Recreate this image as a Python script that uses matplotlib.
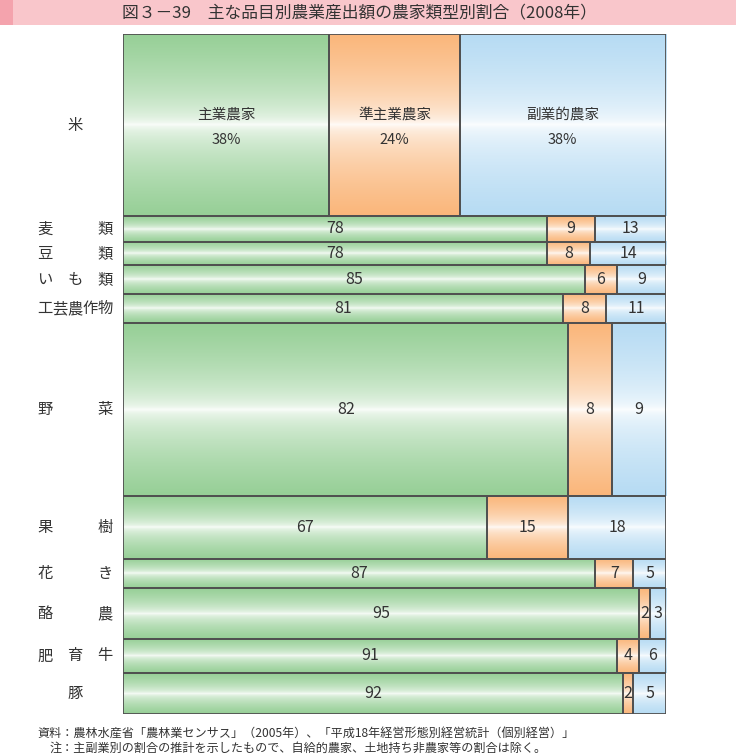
import numpy as np
import matplotlib
matplotlib.use('Agg')
import matplotlib.pyplot as plt
from matplotlib.patches import Rectangle
from matplotlib.colors import to_rgb
import matplotlib.transforms as mtransforms

plt.rcParams['font.family'] = ['Noto Sans CJK JP', 'DejaVu Sans']

# 品目と産出額の構成比 (行の高さ)
items = ['米', '麦類', '豆類', 'いも類', '工芸農作物', '野菜', '果樹', '花き', '酪農', '肥育牛', '豚']
output_share = [26.8, 3.8, 3.4, 4.3, 4.3, 25.4, 9.3, 4.3, 7.4, 5.1, 6.0]

# 農家類型別割合 (%)
main_farm = [38, 78, 78, 85, 81, 82, 67, 87, 95, 91, 92]
semi_farm = [24, 9, 8, 6, 8, 8, 15, 7, 2, 4, 2]
side_farm = [38, 13, 14, 9, 11, 9, 18, 5, 3, 6, 5]

types = ['主業農家', '準主業農家', '副業的農家']
colors = ['#96cf96', '#fab67a', '#b6dbf3']

W, H = 736, 756
fig = plt.figure(figsize=(W / 100, H / 100), dpi=100)
ax = fig.add_axes([123 / W, 1 - 714 / H, 543 / W, 680 / H])

txt_color = '#333333'


def grad_cell(x0, x1, y0, y1, color):
    # 上下が濃く中央が白いグラデーション
    t = np.abs(np.linspace(-1, 1, 200))
    f = t ** 0.5
    c = np.array(to_rgb(color))
    img = 1 - (1 - c)[None, :] * f[:, None]
    ax.imshow(img[:, None, :], extent=(x0, x1, y1, y0), aspect='auto',
              interpolation='bilinear', zorder=1)
    ax.add_patch(Rectangle((x0, y0), x1 - x0, y1 - y0, fill=False,
                           ec='#505050', lw=1.3, zorder=2))


total = sum(output_share)
label_tr = mtransforms.blended_transform_factory(fig.transFigure, ax.transData)

y = 0
for i, name in enumerate(items):
    h = output_share[i] / total * 100
    vals = [main_farm[i], semi_farm[i], side_farm[i]]
    # 副業的農家は残りを100まで
    edges = [0, main_farm[i], main_farm[i] + semi_farm[i], 100]
    for j, v in enumerate(vals):
        x0, x1 = edges[j], edges[j + 1]
        grad_cell(x0, x1, y, y + h, colors[j])
        xc = (x0 + x1) / 2
        if i == 0:
            ax.text(xc, y + h / 2 - 1.5, types[j], ha='center', va='center',
                    fontsize=10.5, color=txt_color, zorder=3)
            ax.text(xc, y + h / 2 + 2.2, f'{v}%', ha='center', va='center',
                    fontsize=10.5, color=txt_color, zorder=3)
        else:
            ax.text(xc, y + h / 2, str(v), ha='center', va='center',
                    fontsize=11.5, color=txt_color, zorder=3)
    # 品目名 (均等割付)
    n = len(name)
    if n == 1:
        ax.text(75 / W, y + h / 2, name, transform=label_tr, ha='center', va='center',
                fontsize=11, color=txt_color)
    else:
        for k, ch in enumerate(name):
            cx = 45 + k * 60 / (n - 1)
            ax.text(cx / W, y + h / 2, ch, transform=label_tr, ha='center', va='center',
                    fontsize=11, color=txt_color)
    y += h

ax.set_xlim(0, 100)
ax.set_ylim(100, 0)
ax.axis('off')

# タイトル帯
fig.patches.append(Rectangle((0, 1 - 25 / H), 1, 25 / H, transform=fig.transFigure,
                             facecolor='#f9c6cb', edgecolor='none', zorder=0))
fig.patches.append(Rectangle((0, 1 - 25 / H), 13 / W, 25 / H, transform=fig.transFigure,
                             facecolor='#f4a3ad', edgecolor='none', zorder=0))
fig.text(122 / W, 1 - 13 / H, '図３－39　主な品目別農業産出額の農家類型別割合（2008年）',
         ha='left', va='center', fontsize=12.1, color=txt_color)

# 注記
fig.text(37 / W, 1 - 733 / H,
         '資料：農林水産省「農林業センサス」（2005年）、「平成18年経営形態別経営統計（個別経営）」',
         ha='left', va='center', fontsize=8.7, color=txt_color)
fig.text(50 / W, 1 - 748 / H,
         '注：主副業別の割合の推計を示したもので、自給的農家、土地持ち非農家等の割合は除く。',
         ha='left', va='center', fontsize=8.7, color=txt_color)

fig.savefig('out.png', dpi=100)
